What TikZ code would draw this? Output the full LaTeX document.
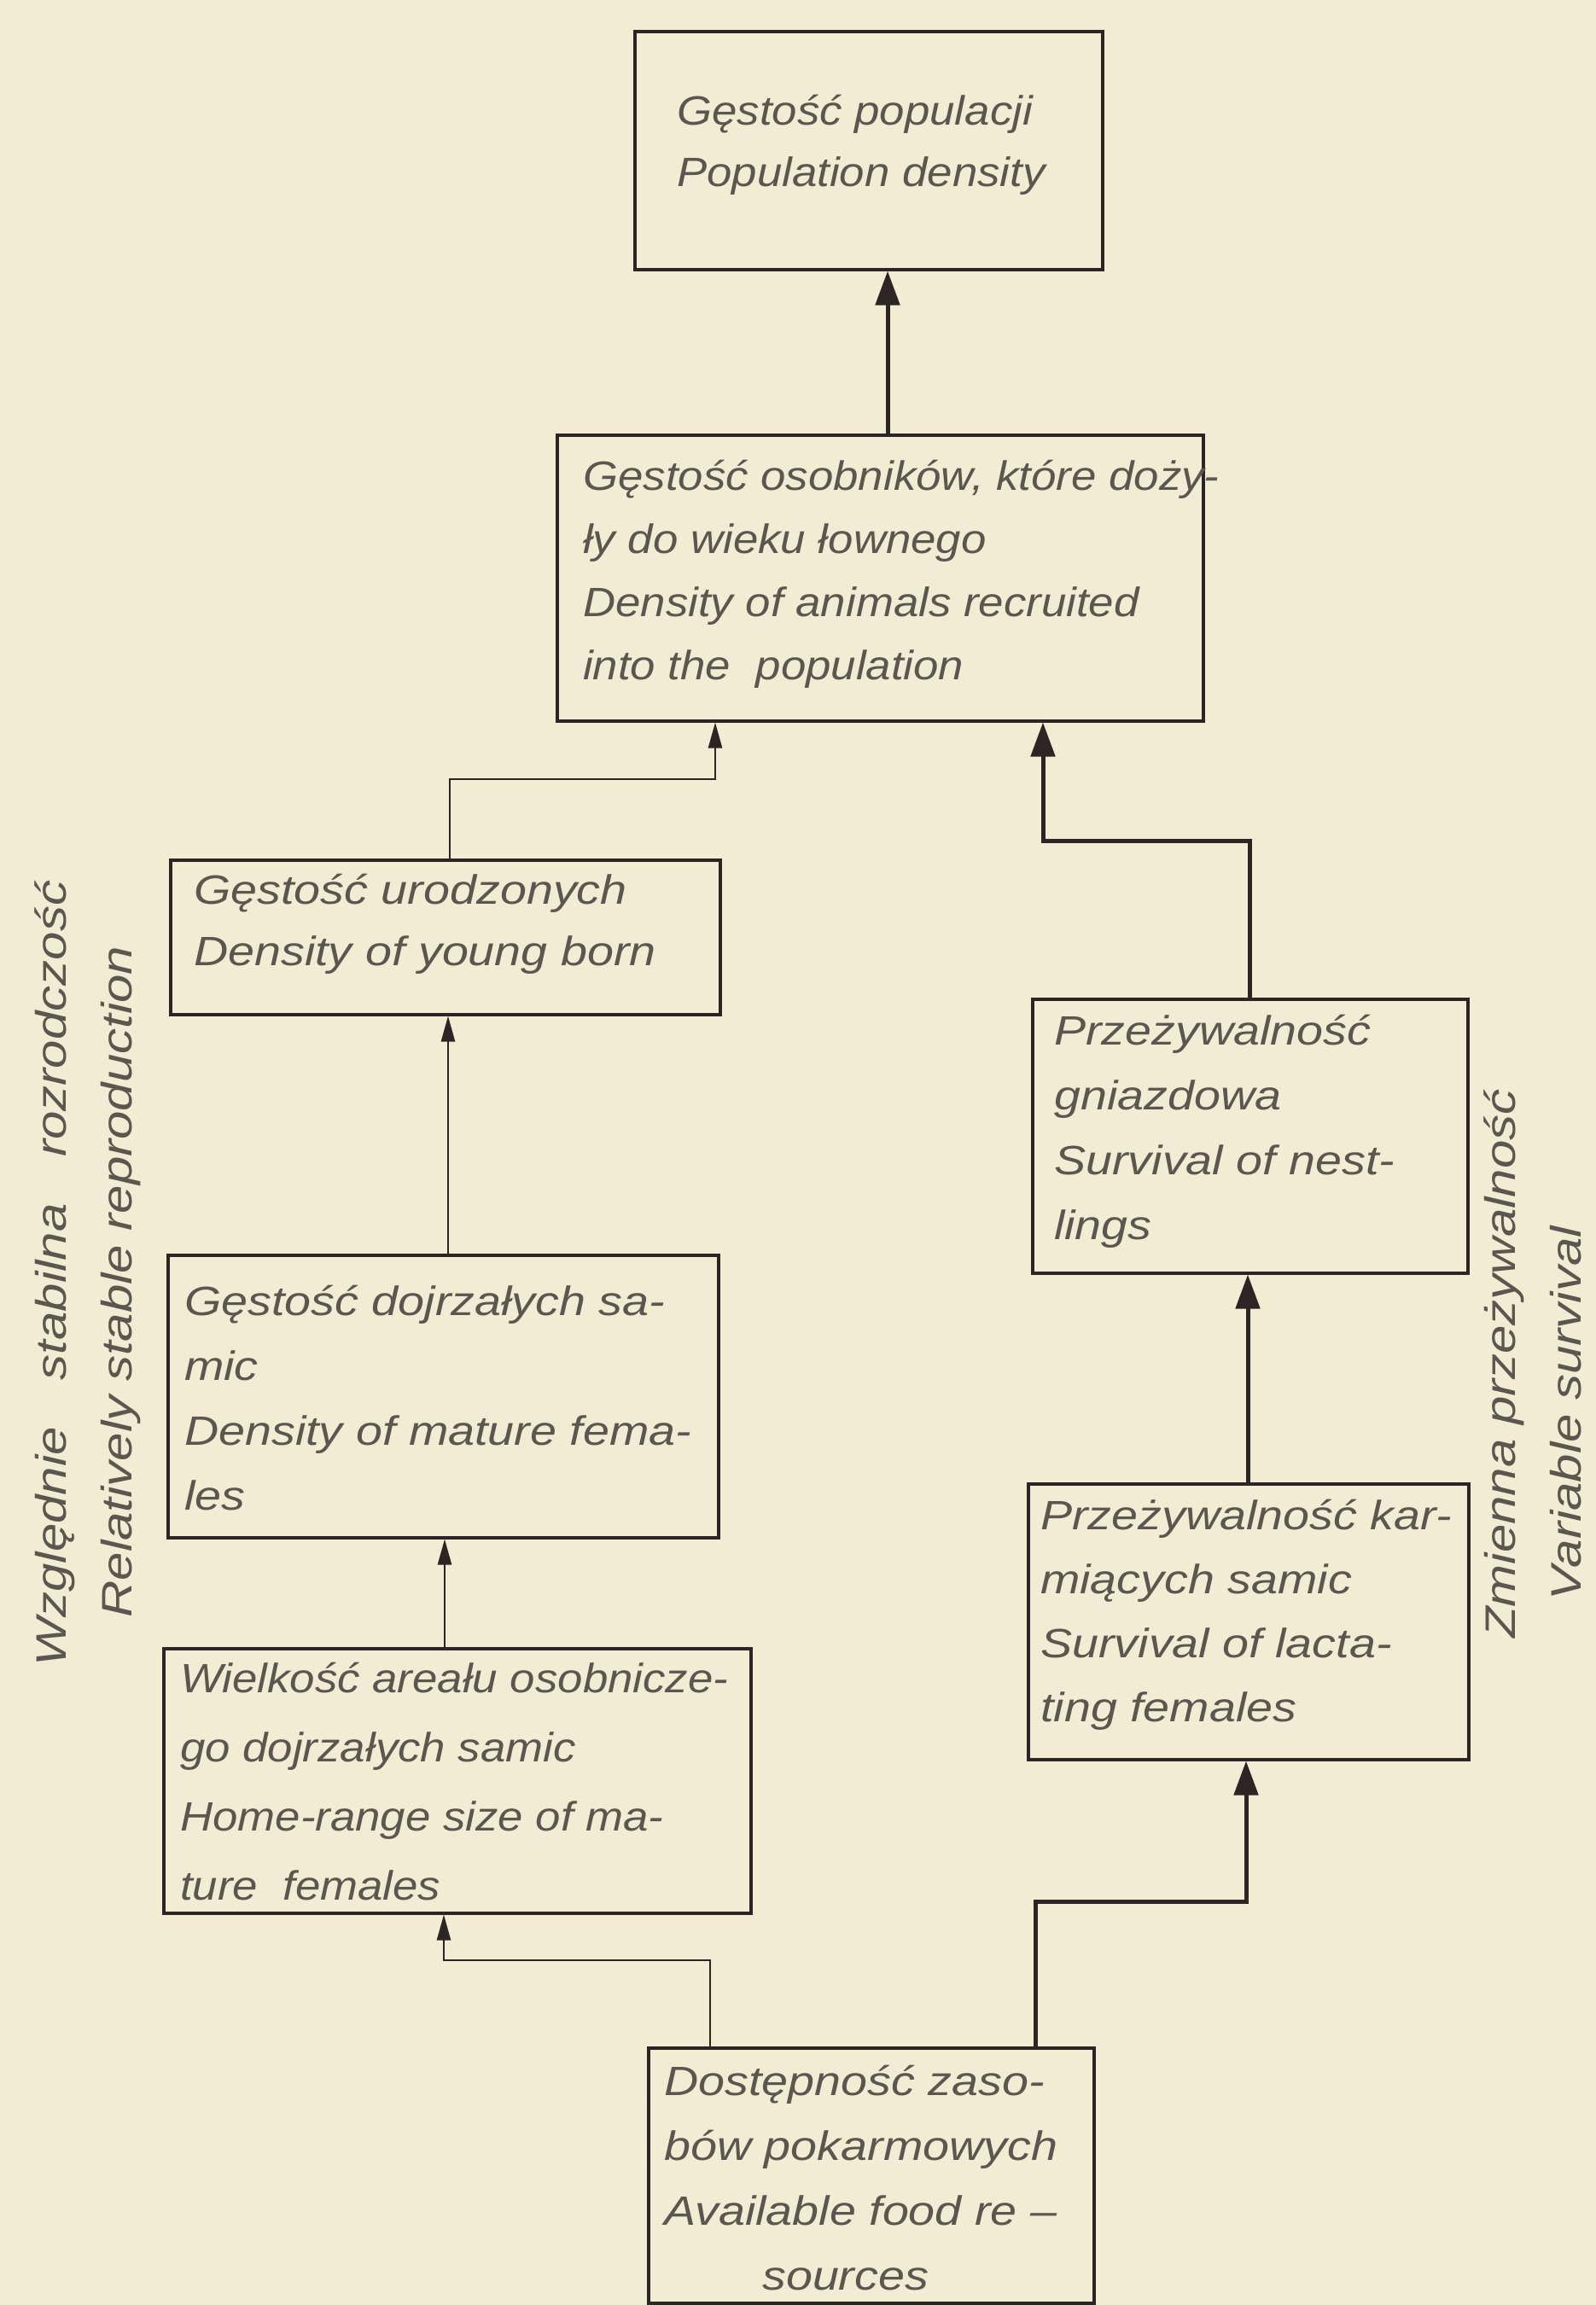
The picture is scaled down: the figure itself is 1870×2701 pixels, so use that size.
\documentclass[tikz,border=0pt]{standalone}
\usepackage{fontspec}
\setmainfont{Liberation Sans}
\newfontfamily\lett[FakeStretch=1.16]{Liberation Sans}
\newfontfamily\letn[FakeStretch=1.1]{Liberation Sans}
\newfontfamily\sidelett[FakeStretch=1.2]{Liberation Sans}
\usetikzlibrary{arrows.meta}
\definecolor{paper}{RGB}{242,236,213}
\definecolor{ink}{RGB}{45,37,35}
\definecolor{pencil}{RGB}{92,86,78}
\begin{document}
\begin{tikzpicture}[x=1pt,y=-1pt,
  box/.style={draw=ink, line width=3.5pt, inner sep=0pt, anchor=north west},
  txt/.style={anchor=north west, inner sep=0pt, align=left, text=pencil,
    font=\lett\itshape\fontsize{48}{76}\selectfont},
  side/.style={inner sep=0pt, text=pencil, rotate=90,
    font=\sidelett\itshape\fontsize{50}{60}\selectfont},
  thickconn/.style={draw=ink, line width=5pt, -{Triangle[length=40pt,width=28pt]}},
  thinconn/.style={draw=ink, line width=2.5pt, -{Triangle[length=30pt,width=16pt]}},
]
\useasboundingbox (0,0) rectangle (1870,2701);
\fill[paper] (0,0) rectangle (1870,2701);

% boxes
\node[box, minimum width=548pt, minimum height=279pt] (b1) at (742,35) {};
\node[box, minimum width=757pt, minimum height=335pt] (b2) at (651,508) {};
\node[box, minimum width=644pt, minimum height=181pt] (b3) at (198,1006) {};
\node[box, minimum width=645pt, minimum height=331pt] (b4) at (195,1469) {};
\node[box, minimum width=688pt, minimum height=310pt] (b5) at (190,1930) {};
\node[box, minimum width=510pt, minimum height=321pt] (b6) at (1208,1169) {};
\node[box, minimum width=516pt, minimum height=323pt] (b7) at (1203,1737) {};
\node[box, minimum width=522pt, minimum height=299pt] (b8) at (758,2398) {};

% texts (top = first baseline - 45)
\node[txt, font=\letn\itshape\fontsize{48}{72}\selectfont] (t1) at (793,101)
  {\rule{0pt}{45pt}Gęstość populacji\\Population density};
\node[txt, font=\letn\itshape\fontsize{48}{74}\selectfont] (t2) at (683,529)
  {\rule{0pt}{45pt}Gęstość osobników, które doży-\\ły do wieku łownego\\Density of animals recruited\\into the\ \ population};
\node[txt, font=\lett\itshape\fontsize{48}{72}\selectfont] (t3) at (227,1014)
  {\rule{0pt}{45pt}Gęstość urodzonych\\Density of young born};
\node[txt] (t4) at (216,1496)
  {\rule{0pt}{45pt}Gęstość dojrzałych sa-\\mic\\Density of mature fema-\\les};
\node[txt, font=\letn\itshape\fontsize{48}{81}\selectfont] (t5) at (211,1938)
  {\rule{0pt}{45pt}Wielkość areału osobnicze-\\go dojrzałych samic\\Home-range size of ma-\\ture\ \ females};
\node[txt] (t6) at (1235,1179)
  {\rule{0pt}{45pt}Przeżywalność\\gniazdowa\\Survival of nest-\\lings};
\node[txt, font=\lett\itshape\fontsize{48}{75}\selectfont] (t7) at (1219,1747)
  {\rule{0pt}{45pt}Przeżywalność kar-\\miących samic\\Survival of lacta-\\ting females};
\node[txt] (t8) at (778,2410)
  {\rule{0pt}{45pt}Dostępność zaso-\\bów pokarmowych\\Available food re –\\\hspace*{115pt}sources};

% side labels
\node[side] (l1) at (64,1492) {Względnie\hspace{55pt}stabilna\hspace{55pt}rozrodczość};
\node[side] (l2) at (142,1502) {Relatively stable reproduction};
\node[side] (r1) at (1762,1598) {Zmienna przeżywalność};
\node[side] (r2) at (1835,1656) {Variable survival};

% connectors
\draw[thickconn] ([xshift=389pt]b2.north west) -- ([xshift=298pt]b1.south west);
\draw[thinconn] ([xshift=329pt]b3.north west) -- ++(0,-93) -| ([xshift=187pt]b2.south west);
\draw[thickconn] ([xshift=256pt]b6.north west) -- ++(0,-184) -| ([xshift=571pt]b2.south west);
\draw[thinconn] ([xshift=330pt]b4.north west) -- ([xshift=327pt]b3.south west);
\draw[thinconn] ([xshift=331pt]b5.north west) -- ([xshift=326pt]b4.south west);
\draw[thickconn] ([xshift=259pt]b7.north west) -- ([xshift=254pt]b6.south west);
\draw[thickconn] ([xshift=455pt]b8.north west) -- ++(0,-170) -| ([xshift=257pt]b7.south west);
\draw[thinconn] ([xshift=74pt]b8.north west) -- ++(0,-101) -| ([xshift=330pt]b5.south west);
\end{tikzpicture}
\end{document}
